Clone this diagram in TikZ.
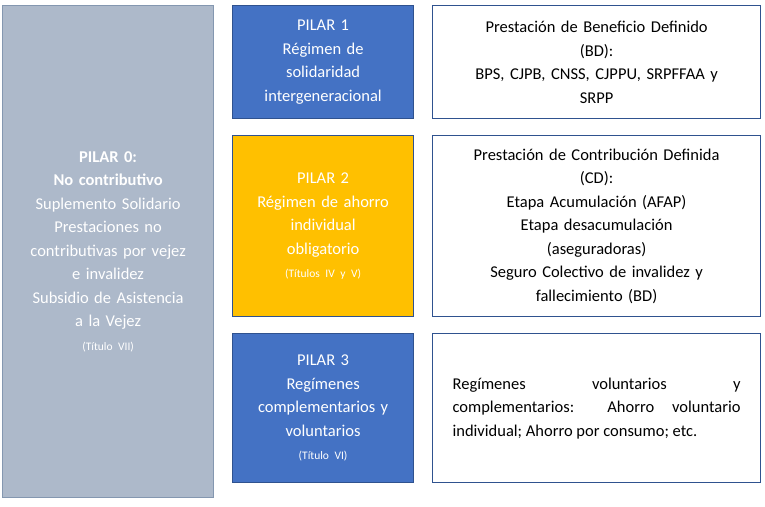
\documentclass[tikz,border=0pt]{standalone}
\usepackage{fontspec}
\setmainfont{Carlito}
\definecolor{pilarblue}{HTML}{4472C4}
\definecolor{pilargold}{HTML}{FFC000}
\definecolor{pilargray}{HTML}{ADB9CA}
\definecolor{edgeblue}{HTML}{2F528F}
\definecolor{edgegray}{HTML}{8497B0}
\newcommand{\tsmall}[1]{{\fontsize{11.5}{16}\selectfont #1}}

\begin{document}
\begin{tikzpicture}[x=1pt, y=-1pt,
    pilar/.style={rectangle, draw=edgeblue, line width=1.2pt, anchor=north west, inner sep=0pt, align=center, text=white, font=\fontsize{16.5}{23.5}\selectfont},
    detail/.style={rectangle, draw=edgeblue, line width=1.2pt, fill=white, anchor=north west, inner sep=0pt, align=center, font=\fontsize{16.5}{23.5}\selectfont}
]
\useasboundingbox (0,0) rectangle (765,506);
\node[pilar, draw=edgegray, fill=pilargray, minimum width=211, minimum height=492, text width=205] (p0) at (2,5)
  {\textbf{PILAR 0:}\\\textbf{No contributivo}\\Suplemento Solidario\\Prestaciones no\\contributivas por vejez\\e invalidez\\Subsidio de Asistencia\\a la Vejez\\\tsmall{(Título VII)}};
\node[pilar, fill=pilarblue, minimum width=181, minimum height=113, text width=178] (p1) at (232,5)
  {PILAR 1\\Régimen de\\solidaridad\\intergeneracional};
\node[pilar, fill=pilargold, minimum width=181, minimum height=181, text width=178] (p2) at (232,135)
  {PILAR 2\\Régimen de ahorro\\individual\\obligatorio\\\tsmall{(Títulos IV y V)}};
\node[pilar, fill=pilarblue, minimum width=181, minimum height=149, text width=178] (p3) at (232,333)
  {PILAR 3\\Regímenes\\complementarios y\\voluntarios\\\tsmall{(Título VI)}};
\node[detail, minimum width=328, minimum height=113, text width=320] (d1) at (432,5)
  {Prestación de Beneficio Definido\\(BD):\\BPS, CJPB, CNSS, CJPPU, SRPFFAA y\\SRPP};
\node[detail, minimum width=328, minimum height=181, text width=320] (d2) at (432,135)
  {Prestación de Contribución Definida\\(CD):\\Etapa Acumulación (AFAP)\\Etapa desacumulación\\(aseguradoras)\\Seguro Colectivo de invalidez y\\fallecimiento (BD)};
\node[detail, minimum width=328, minimum height=149, text width=288, align=justify] (d3) at (432,333)
  {Regímenes voluntarios y\linebreak complementarios: Ahorro voluntario\linebreak individual; Ahorro por consumo; etc.};
\end{tikzpicture}
\end{document}
